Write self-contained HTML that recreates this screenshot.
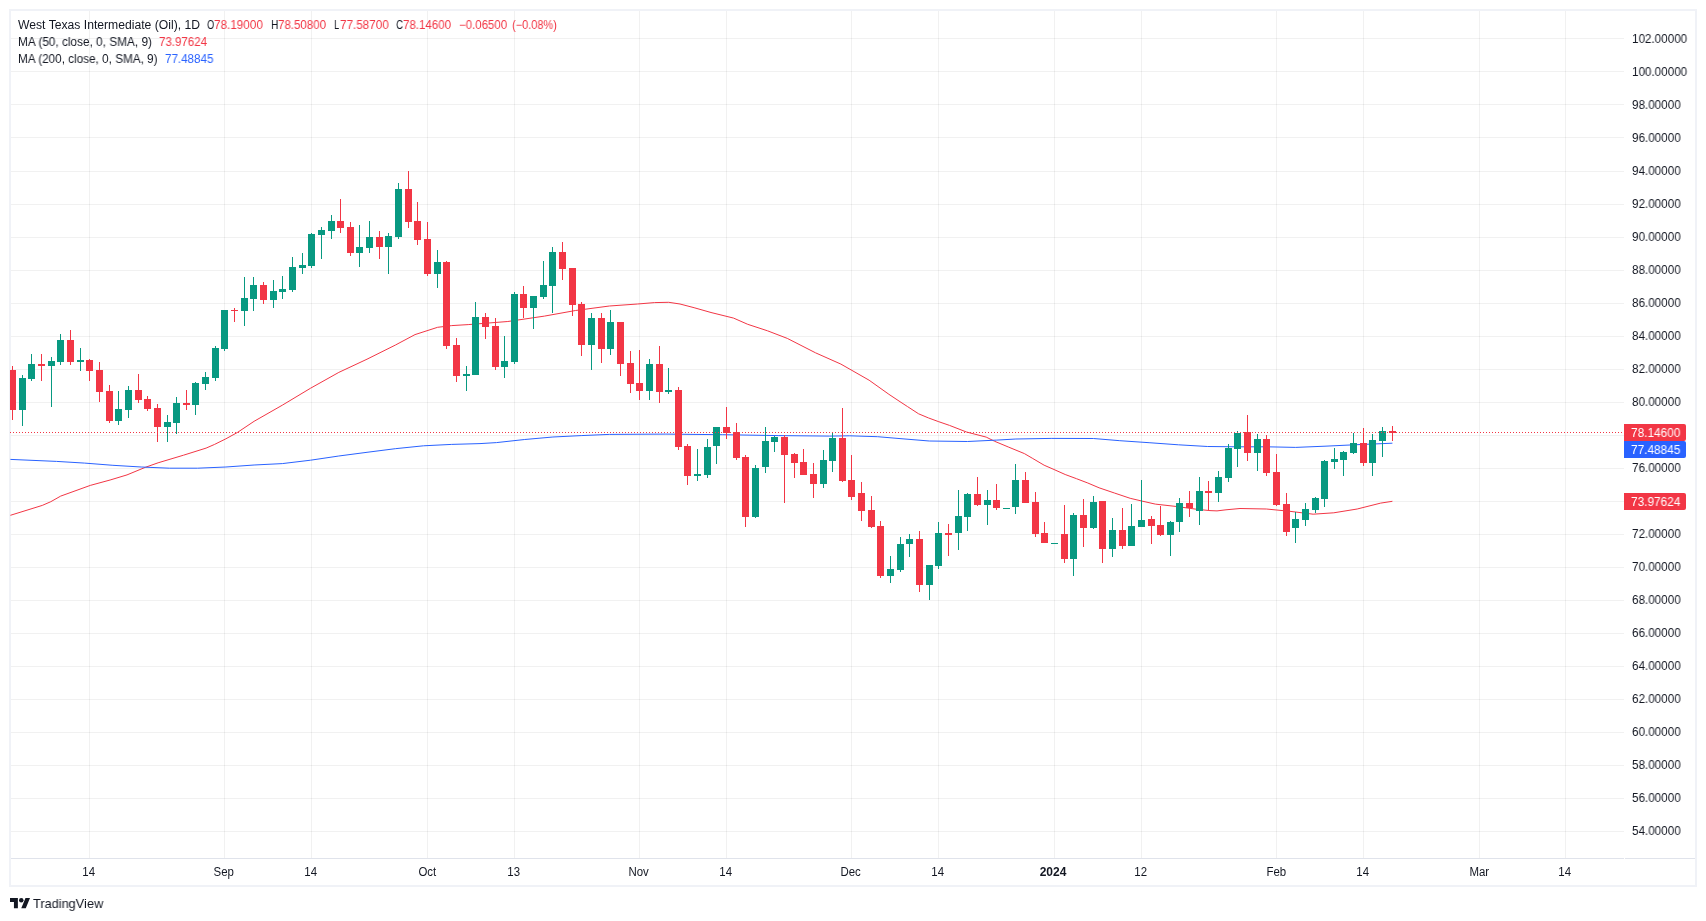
<!DOCTYPE html><html><head><meta charset="utf-8"><title>WTI</title><style>

html,body{margin:0;padding:0;background:#fff;}
body{width:1706px;height:921px;position:relative;overflow:hidden;font-family:"Liberation Sans",sans-serif;color:#131722;}
#frame{position:absolute;left:9px;top:9px;width:1684px;height:874px;border:2px solid #f0f2f7;}
svg{position:absolute;left:0;top:0;}
.t{position:absolute;white-space:nowrap;font-size:12px;line-height:14px;transform-origin:0 0;}
.pl{position:absolute;left:1631.9px;font-size:12px;line-height:14px;white-space:nowrap;transform-origin:0 50%;transform:scaleX(.972);}
.tl{position:absolute;top:865.2px;width:60px;text-align:center;font-size:12px;line-height:14px;white-space:nowrap;}
.tag{position:absolute;left:1624px;width:62px;height:17px;border-radius:0 2px 2px 0;color:#fff;font-size:12px;line-height:17px;}
.tag span{position:absolute;left:7.3px;top:1.2px;transform-origin:0 50%;transform:scaleX(.985);}
.pl,.tl,.t,.tag span{will-change:transform;}
.red{color:#f23645}.blue{color:#2962ff}

</style></head><body>
<div id="frame"></div>
<svg width="1706" height="921" viewBox="0 0 1706 921"><g shape-rendering="crispEdges"><rect x="89" y="11" width="1" height="847" fill="#283030" fill-opacity="0.065"/><rect x="224" y="11" width="1" height="847" fill="#283030" fill-opacity="0.065"/><rect x="311" y="11" width="1" height="847" fill="#283030" fill-opacity="0.065"/><rect x="427" y="11" width="1" height="847" fill="#283030" fill-opacity="0.065"/><rect x="514" y="11" width="1" height="847" fill="#283030" fill-opacity="0.065"/><rect x="639" y="11" width="1" height="847" fill="#283030" fill-opacity="0.065"/><rect x="726" y="11" width="1" height="847" fill="#283030" fill-opacity="0.065"/><rect x="851" y="11" width="1" height="847" fill="#283030" fill-opacity="0.065"/><rect x="938" y="11" width="1" height="847" fill="#283030" fill-opacity="0.065"/><rect x="1054" y="11" width="1" height="847" fill="#283030" fill-opacity="0.065"/><rect x="1141" y="11" width="1" height="847" fill="#283030" fill-opacity="0.065"/><rect x="1276" y="11" width="1" height="847" fill="#283030" fill-opacity="0.065"/><rect x="1363" y="11" width="1" height="847" fill="#283030" fill-opacity="0.065"/><rect x="1479" y="11" width="1" height="847" fill="#283030" fill-opacity="0.065"/><rect x="1565" y="11" width="1" height="847" fill="#283030" fill-opacity="0.065"/><rect x="11" y="831" width="1613" height="1" fill="#283030" fill-opacity="0.065"/><rect x="11" y="798" width="1613" height="1" fill="#283030" fill-opacity="0.065"/><rect x="11" y="765" width="1613" height="1" fill="#283030" fill-opacity="0.065"/><rect x="11" y="732" width="1613" height="1" fill="#283030" fill-opacity="0.065"/><rect x="11" y="699" width="1613" height="1" fill="#283030" fill-opacity="0.065"/><rect x="11" y="666" width="1613" height="1" fill="#283030" fill-opacity="0.065"/><rect x="11" y="633" width="1613" height="1" fill="#283030" fill-opacity="0.065"/><rect x="11" y="600" width="1613" height="1" fill="#283030" fill-opacity="0.065"/><rect x="11" y="567" width="1613" height="1" fill="#283030" fill-opacity="0.065"/><rect x="11" y="534" width="1613" height="1" fill="#283030" fill-opacity="0.065"/><rect x="11" y="501" width="1613" height="1" fill="#283030" fill-opacity="0.065"/><rect x="11" y="468" width="1613" height="1" fill="#283030" fill-opacity="0.065"/><rect x="11" y="435" width="1613" height="1" fill="#283030" fill-opacity="0.065"/><rect x="11" y="402" width="1613" height="1" fill="#283030" fill-opacity="0.065"/><rect x="11" y="369" width="1613" height="1" fill="#283030" fill-opacity="0.065"/><rect x="11" y="336" width="1613" height="1" fill="#283030" fill-opacity="0.065"/><rect x="11" y="303" width="1613" height="1" fill="#283030" fill-opacity="0.065"/><rect x="11" y="270" width="1613" height="1" fill="#283030" fill-opacity="0.065"/><rect x="11" y="237" width="1613" height="1" fill="#283030" fill-opacity="0.065"/><rect x="11" y="204" width="1613" height="1" fill="#283030" fill-opacity="0.065"/><rect x="11" y="171" width="1613" height="1" fill="#283030" fill-opacity="0.065"/><rect x="11" y="137" width="1613" height="1" fill="#283030" fill-opacity="0.065"/><rect x="11" y="104" width="1613" height="1" fill="#283030" fill-opacity="0.065"/><rect x="11" y="71" width="1613" height="1" fill="#283030" fill-opacity="0.065"/><rect x="11" y="38" width="1613" height="1" fill="#283030" fill-opacity="0.065"/><rect x="11" y="858" width="1613" height="1" fill="#e0e3eb"/><rect x="1625" y="858" width="70" height="1" fill="#e0e3eb"/></g><defs><clipPath id="cp"><rect x="10" y="11" width="1614" height="847"/></clipPath></defs><g clip-path="url(#cp)"><path d="M10.4,515.3 L42.3,505.4 L50.8,501.7 L60.7,496.1 L90.3,485.4 L110.1,480.0 L127.0,474.9 L145.4,467.3 L158.1,462.8 L183.5,455.2 L206.1,448.1 L214.6,444.4 L225.9,438.8 L237.2,432.6 L254.1,421.3 L282.3,405.2 L310.6,388.2 L338.8,372.4 L367.0,359.2 L395.3,345.1 L415.0,334.6 L437.6,327.3 L451.7,325.6 L468.2,324.6 L507.8,321.5 L544.5,316.1 L575.5,310.5 L609.4,306.0 L637.6,304.0 L654.6,302.6 L668.7,302.3 L680.0,304.0 L694.1,307.7 L711.0,312.5 L733.6,318.1 L747.7,324.3 L767.5,330.8 L787.3,338.4 L815.5,352.8 L840.9,364.1 L869.1,380.2 L888.9,394.3 L900.0,401.7 L907.4,406.5 L918.6,413.8 L928.4,417.9 L938.2,421.5 L949.5,425.4 L966.5,432.0 L986.2,437.1 L994.7,441.3 L1008.8,447.2 L1024.4,453.6 L1032.8,458.5 L1044.1,465.2 L1054.0,469.5 L1065.2,474.5 L1076.5,478.7 L1087.8,483.0 L1099.1,487.8 L1114.7,493.1 L1130.2,498.3 L1141.2,500.9 L1155.3,504.1 L1176.5,506.5 L1197.7,509.4 L1210.0,510.6 L1217.0,510.9 L1226.0,509.8 L1240.0,508.5 L1266.4,509.0 L1289.8,511.3 L1313.2,514.2 L1333.8,512.8 L1357.2,509.0 L1380.7,503.1 L1392.4,501.3" fill="none" stroke="#f23645" stroke-width="1" stroke-linejoin="round"/><path d="M10.4,459.4 L56.5,461.4 L84.7,463.1 L112.9,465.3 L141.2,467.0 L169.4,468.2 L197.6,468.2 L225.9,467.0 L254.1,465.0 L282.3,463.6 L310.6,460.2 L338.8,456.0 L367.0,452.3 L395.3,448.7 L423.5,445.8 L451.7,444.4 L480.0,443.6 L496.5,442.6 L524.7,439.5 L552.9,437.0 L581.2,435.6 L609.4,434.4 L665.9,434.1 L722.3,434.7 L778.8,435.6 L829.6,436.1 L849.4,435.8 L877.6,436.7 L900.0,438.6 L929.3,441.0 L967.4,441.5 L996.7,440.1 L1015.9,439.0 L1051.2,438.4 L1093.5,438.5 L1119.8,440.7 L1149.1,442.7 L1178.4,444.8 L1207.7,446.5 L1237.0,446.8 L1266.4,446.8 L1295.7,447.4 L1325.0,446.2 L1354.3,444.8 L1392.4,443.2" fill="none" stroke="#2962ff" stroke-width="1" stroke-linejoin="round"/><g shape-rendering="crispEdges"><rect x="12" y="366" width="1" height="54" fill="#f23645"/><rect x="9" y="370" width="7" height="40" fill="#f23645"/><rect x="22" y="375" width="1" height="51" fill="#089981"/><rect x="19" y="378" width="7" height="32" fill="#089981"/><rect x="31" y="354" width="1" height="27" fill="#089981"/><rect x="28" y="364" width="7" height="15" fill="#089981"/><rect x="41" y="354" width="1" height="27" fill="#f23645"/><rect x="38" y="364" width="7" height="2" fill="#f23645"/><rect x="51" y="357" width="1" height="50" fill="#089981"/><rect x="48" y="361" width="7" height="5" fill="#089981"/><rect x="60" y="334" width="1" height="31" fill="#089981"/><rect x="57" y="340" width="7" height="22" fill="#089981"/><rect x="70" y="330" width="1" height="35" fill="#f23645"/><rect x="67" y="340" width="7" height="22" fill="#f23645"/><rect x="80" y="348" width="1" height="23" fill="#089981"/><rect x="77" y="360" width="7" height="2" fill="#089981"/><rect x="89" y="359" width="1" height="22" fill="#f23645"/><rect x="86" y="360" width="7" height="11" fill="#f23645"/><rect x="99" y="362" width="1" height="40" fill="#f23645"/><rect x="96" y="370" width="7" height="22" fill="#f23645"/><rect x="109" y="385" width="1" height="38" fill="#f23645"/><rect x="106" y="391" width="7" height="30" fill="#f23645"/><rect x="118" y="391" width="1" height="34" fill="#089981"/><rect x="115" y="409" width="7" height="12" fill="#089981"/><rect x="128" y="386" width="1" height="32" fill="#089981"/><rect x="125" y="390" width="7" height="20" fill="#089981"/><rect x="138" y="374" width="1" height="29" fill="#f23645"/><rect x="135" y="390" width="7" height="10" fill="#f23645"/><rect x="147" y="396" width="1" height="15" fill="#f23645"/><rect x="144" y="399" width="7" height="10" fill="#f23645"/><rect x="157" y="404" width="1" height="38" fill="#f23645"/><rect x="154" y="408" width="7" height="19" fill="#f23645"/><rect x="167" y="415" width="1" height="27" fill="#089981"/><rect x="164" y="422" width="7" height="5" fill="#089981"/><rect x="176" y="397" width="1" height="37" fill="#089981"/><rect x="173" y="403" width="7" height="20" fill="#089981"/><rect x="186" y="390" width="1" height="20" fill="#f23645"/><rect x="183" y="403" width="7" height="2" fill="#f23645"/><rect x="195" y="382" width="1" height="33" fill="#089981"/><rect x="192" y="383" width="7" height="22" fill="#089981"/><rect x="205" y="372" width="1" height="18" fill="#089981"/><rect x="202" y="377" width="7" height="7" fill="#089981"/><rect x="215" y="346" width="1" height="35" fill="#089981"/><rect x="212" y="348" width="7" height="30" fill="#089981"/><rect x="224" y="310" width="1" height="41" fill="#089981"/><rect x="221" y="310" width="7" height="39" fill="#089981"/><rect x="234" y="308" width="1" height="14" fill="#f23645"/><rect x="231" y="310" width="7" height="1" fill="#f23645"/><rect x="244" y="277" width="1" height="49" fill="#089981"/><rect x="241" y="298" width="7" height="13" fill="#089981"/><rect x="253" y="277" width="1" height="34" fill="#089981"/><rect x="250" y="285" width="7" height="14" fill="#089981"/><rect x="263" y="282" width="1" height="22" fill="#f23645"/><rect x="260" y="285" width="7" height="15" fill="#f23645"/><rect x="273" y="280" width="1" height="28" fill="#089981"/><rect x="270" y="291" width="7" height="9" fill="#089981"/><rect x="282" y="276" width="1" height="23" fill="#089981"/><rect x="279" y="289" width="7" height="3" fill="#089981"/><rect x="292" y="257" width="1" height="35" fill="#089981"/><rect x="289" y="267" width="7" height="23" fill="#089981"/><rect x="302" y="253" width="1" height="21" fill="#089981"/><rect x="299" y="265" width="7" height="3" fill="#089981"/><rect x="311" y="233" width="1" height="35" fill="#089981"/><rect x="308" y="234" width="7" height="32" fill="#089981"/><rect x="321" y="227" width="1" height="32" fill="#089981"/><rect x="318" y="230" width="7" height="5" fill="#089981"/><rect x="331" y="215" width="1" height="24" fill="#089981"/><rect x="328" y="221" width="7" height="10" fill="#089981"/><rect x="340" y="199" width="1" height="34" fill="#f23645"/><rect x="337" y="221" width="7" height="7" fill="#f23645"/><rect x="350" y="222" width="1" height="34" fill="#f23645"/><rect x="347" y="227" width="7" height="26" fill="#f23645"/><rect x="359" y="225" width="1" height="42" fill="#089981"/><rect x="356" y="247" width="7" height="6" fill="#089981"/><rect x="369" y="221" width="1" height="32" fill="#089981"/><rect x="366" y="237" width="7" height="11" fill="#089981"/><rect x="379" y="231" width="1" height="28" fill="#f23645"/><rect x="376" y="237" width="7" height="10" fill="#f23645"/><rect x="388" y="233" width="1" height="41" fill="#089981"/><rect x="385" y="236" width="7" height="11" fill="#089981"/><rect x="398" y="183" width="1" height="56" fill="#089981"/><rect x="395" y="189" width="7" height="48" fill="#089981"/><rect x="408" y="171" width="1" height="57" fill="#f23645"/><rect x="405" y="189" width="7" height="33" fill="#f23645"/><rect x="417" y="202" width="1" height="43" fill="#f23645"/><rect x="414" y="221" width="7" height="19" fill="#f23645"/><rect x="427" y="222" width="1" height="54" fill="#f23645"/><rect x="424" y="239" width="7" height="35" fill="#f23645"/><rect x="437" y="250" width="1" height="38" fill="#089981"/><rect x="434" y="262" width="7" height="12" fill="#089981"/><rect x="446" y="261" width="1" height="88" fill="#f23645"/><rect x="443" y="262" width="7" height="84" fill="#f23645"/><rect x="456" y="338" width="1" height="44" fill="#f23645"/><rect x="453" y="345" width="7" height="31" fill="#f23645"/><rect x="466" y="366" width="1" height="25" fill="#089981"/><rect x="463" y="374" width="7" height="2" fill="#089981"/><rect x="475" y="302" width="1" height="73" fill="#089981"/><rect x="472" y="317" width="7" height="58" fill="#089981"/><rect x="485" y="313" width="1" height="26" fill="#f23645"/><rect x="482" y="317" width="7" height="10" fill="#f23645"/><rect x="495" y="318" width="1" height="52" fill="#f23645"/><rect x="492" y="326" width="7" height="41" fill="#f23645"/><rect x="504" y="336" width="1" height="42" fill="#089981"/><rect x="501" y="361" width="7" height="6" fill="#089981"/><rect x="514" y="292" width="1" height="72" fill="#089981"/><rect x="511" y="294" width="7" height="68" fill="#089981"/><rect x="523" y="286" width="1" height="32" fill="#f23645"/><rect x="520" y="294" width="7" height="14" fill="#f23645"/><rect x="533" y="296" width="1" height="33" fill="#089981"/><rect x="530" y="296" width="7" height="12" fill="#089981"/><rect x="543" y="261" width="1" height="38" fill="#089981"/><rect x="540" y="285" width="7" height="12" fill="#089981"/><rect x="552" y="247" width="1" height="66" fill="#089981"/><rect x="549" y="252" width="7" height="34" fill="#089981"/><rect x="562" y="242" width="1" height="38" fill="#f23645"/><rect x="559" y="252" width="7" height="17" fill="#f23645"/><rect x="572" y="268" width="1" height="48" fill="#f23645"/><rect x="569" y="268" width="7" height="37" fill="#f23645"/><rect x="581" y="302" width="1" height="54" fill="#f23645"/><rect x="578" y="304" width="7" height="41" fill="#f23645"/><rect x="591" y="313" width="1" height="57" fill="#089981"/><rect x="588" y="318" width="7" height="27" fill="#089981"/><rect x="601" y="313" width="1" height="50" fill="#f23645"/><rect x="598" y="318" width="7" height="31" fill="#f23645"/><rect x="610" y="310" width="1" height="45" fill="#089981"/><rect x="607" y="322" width="7" height="27" fill="#089981"/><rect x="620" y="322" width="1" height="54" fill="#f23645"/><rect x="617" y="322" width="7" height="42" fill="#f23645"/><rect x="630" y="351" width="1" height="42" fill="#f23645"/><rect x="627" y="363" width="7" height="21" fill="#f23645"/><rect x="639" y="350" width="1" height="50" fill="#f23645"/><rect x="636" y="383" width="7" height="8" fill="#f23645"/><rect x="649" y="359" width="1" height="41" fill="#089981"/><rect x="646" y="364" width="7" height="27" fill="#089981"/><rect x="659" y="346" width="1" height="57" fill="#f23645"/><rect x="656" y="364" width="7" height="28" fill="#f23645"/><rect x="668" y="368" width="1" height="26" fill="#089981"/><rect x="665" y="390" width="7" height="2" fill="#089981"/><rect x="678" y="387" width="1" height="63" fill="#f23645"/><rect x="675" y="390" width="7" height="57" fill="#f23645"/><rect x="687" y="444" width="1" height="41" fill="#f23645"/><rect x="684" y="446" width="7" height="30" fill="#f23645"/><rect x="697" y="449" width="1" height="32" fill="#089981"/><rect x="694" y="474" width="7" height="2" fill="#089981"/><rect x="707" y="439" width="1" height="39" fill="#089981"/><rect x="704" y="447" width="7" height="28" fill="#089981"/><rect x="716" y="427" width="1" height="37" fill="#089981"/><rect x="713" y="427" width="7" height="19" fill="#089981"/><rect x="726" y="407" width="1" height="32" fill="#f23645"/><rect x="723" y="427" width="7" height="6" fill="#f23645"/><rect x="736" y="423" width="1" height="37" fill="#f23645"/><rect x="733" y="432" width="7" height="26" fill="#f23645"/><rect x="745" y="455" width="1" height="72" fill="#f23645"/><rect x="742" y="457" width="7" height="60" fill="#f23645"/><rect x="755" y="465" width="1" height="53" fill="#089981"/><rect x="752" y="468" width="7" height="49" fill="#089981"/><rect x="765" y="427" width="1" height="46" fill="#089981"/><rect x="762" y="441" width="7" height="26" fill="#089981"/><rect x="774" y="436" width="1" height="16" fill="#089981"/><rect x="771" y="437" width="7" height="5" fill="#089981"/><rect x="784" y="435" width="1" height="68" fill="#f23645"/><rect x="781" y="437" width="7" height="18" fill="#f23645"/><rect x="794" y="453" width="1" height="25" fill="#f23645"/><rect x="791" y="454" width="7" height="9" fill="#f23645"/><rect x="803" y="449" width="1" height="26" fill="#f23645"/><rect x="800" y="462" width="7" height="13" fill="#f23645"/><rect x="813" y="463" width="1" height="35" fill="#f23645"/><rect x="810" y="474" width="7" height="10" fill="#f23645"/><rect x="823" y="450" width="1" height="38" fill="#089981"/><rect x="820" y="460" width="7" height="24" fill="#089981"/><rect x="832" y="432" width="1" height="40" fill="#089981"/><rect x="829" y="438" width="7" height="23" fill="#089981"/><rect x="842" y="408" width="1" height="74" fill="#f23645"/><rect x="839" y="438" width="7" height="43" fill="#f23645"/><rect x="851" y="455" width="1" height="45" fill="#f23645"/><rect x="848" y="480" width="7" height="17" fill="#f23645"/><rect x="861" y="482" width="1" height="39" fill="#f23645"/><rect x="858" y="493" width="7" height="18" fill="#f23645"/><rect x="871" y="496" width="1" height="32" fill="#f23645"/><rect x="868" y="510" width="7" height="17" fill="#f23645"/><rect x="880" y="521" width="1" height="57" fill="#f23645"/><rect x="877" y="526" width="7" height="50" fill="#f23645"/><rect x="890" y="556" width="1" height="27" fill="#089981"/><rect x="887" y="569" width="7" height="7" fill="#089981"/><rect x="900" y="537" width="1" height="35" fill="#089981"/><rect x="897" y="544" width="7" height="26" fill="#089981"/><rect x="909" y="534" width="1" height="23" fill="#089981"/><rect x="906" y="539" width="7" height="5" fill="#089981"/><rect x="919" y="531" width="1" height="61" fill="#f23645"/><rect x="916" y="539" width="7" height="46" fill="#f23645"/><rect x="929" y="565" width="1" height="35" fill="#089981"/><rect x="926" y="565" width="7" height="20" fill="#089981"/><rect x="938" y="522" width="1" height="47" fill="#089981"/><rect x="935" y="533" width="7" height="33" fill="#089981"/><rect x="948" y="524" width="1" height="32" fill="#f23645"/><rect x="945" y="533" width="7" height="2" fill="#f23645"/><rect x="958" y="490" width="1" height="60" fill="#089981"/><rect x="955" y="516" width="7" height="17" fill="#089981"/><rect x="967" y="493" width="1" height="38" fill="#089981"/><rect x="964" y="494" width="7" height="23" fill="#089981"/><rect x="977" y="477" width="1" height="29" fill="#f23645"/><rect x="974" y="494" width="7" height="11" fill="#f23645"/><rect x="987" y="490" width="1" height="35" fill="#089981"/><rect x="984" y="500" width="7" height="5" fill="#089981"/><rect x="996" y="484" width="1" height="26" fill="#f23645"/><rect x="993" y="500" width="7" height="8" fill="#f23645"/><rect x="1006" y="508" width="1" height="1" fill="#089981"/><rect x="1003" y="508" width="7" height="1" fill="#089981"/><rect x="1015" y="464" width="1" height="50" fill="#089981"/><rect x="1012" y="480" width="7" height="27" fill="#089981"/><rect x="1025" y="472" width="1" height="31" fill="#f23645"/><rect x="1022" y="480" width="7" height="23" fill="#f23645"/><rect x="1035" y="492" width="1" height="45" fill="#f23645"/><rect x="1032" y="502" width="7" height="32" fill="#f23645"/><rect x="1044" y="522" width="1" height="21" fill="#f23645"/><rect x="1041" y="533" width="7" height="10" fill="#f23645"/><rect x="1054" y="543" width="1" height="1" fill="#089981"/><rect x="1051" y="543" width="7" height="1" fill="#089981"/><rect x="1064" y="505" width="1" height="58" fill="#f23645"/><rect x="1061" y="534" width="7" height="25" fill="#f23645"/><rect x="1073" y="513" width="1" height="63" fill="#089981"/><rect x="1070" y="515" width="7" height="44" fill="#089981"/><rect x="1083" y="499" width="1" height="48" fill="#f23645"/><rect x="1080" y="515" width="7" height="13" fill="#f23645"/><rect x="1093" y="496" width="1" height="33" fill="#089981"/><rect x="1090" y="502" width="7" height="26" fill="#089981"/><rect x="1102" y="501" width="1" height="62" fill="#f23645"/><rect x="1099" y="501" width="7" height="48" fill="#f23645"/><rect x="1112" y="518" width="1" height="39" fill="#089981"/><rect x="1109" y="530" width="7" height="19" fill="#089981"/><rect x="1122" y="508" width="1" height="41" fill="#f23645"/><rect x="1119" y="530" width="7" height="16" fill="#f23645"/><rect x="1131" y="504" width="1" height="42" fill="#089981"/><rect x="1128" y="526" width="7" height="20" fill="#089981"/><rect x="1141" y="480" width="1" height="47" fill="#089981"/><rect x="1138" y="520" width="7" height="7" fill="#089981"/><rect x="1151" y="516" width="1" height="28" fill="#f23645"/><rect x="1148" y="519" width="7" height="7" fill="#f23645"/><rect x="1160" y="506" width="1" height="30" fill="#f23645"/><rect x="1157" y="525" width="7" height="10" fill="#f23645"/><rect x="1170" y="521" width="1" height="35" fill="#089981"/><rect x="1167" y="522" width="7" height="13" fill="#089981"/><rect x="1179" y="498" width="1" height="34" fill="#089981"/><rect x="1176" y="503" width="7" height="19" fill="#089981"/><rect x="1189" y="491" width="1" height="26" fill="#f23645"/><rect x="1186" y="503" width="7" height="5" fill="#f23645"/><rect x="1199" y="477" width="1" height="48" fill="#089981"/><rect x="1196" y="491" width="7" height="20" fill="#089981"/><rect x="1208" y="481" width="1" height="29" fill="#f23645"/><rect x="1205" y="491" width="7" height="2" fill="#f23645"/><rect x="1218" y="471" width="1" height="31" fill="#089981"/><rect x="1215" y="477" width="7" height="16" fill="#089981"/><rect x="1228" y="444" width="1" height="38" fill="#089981"/><rect x="1225" y="448" width="7" height="30" fill="#089981"/><rect x="1237" y="431" width="1" height="36" fill="#089981"/><rect x="1234" y="433" width="7" height="16" fill="#089981"/><rect x="1247" y="415" width="1" height="46" fill="#f23645"/><rect x="1244" y="432" width="7" height="21" fill="#f23645"/><rect x="1257" y="434" width="1" height="37" fill="#089981"/><rect x="1254" y="439" width="7" height="14" fill="#089981"/><rect x="1266" y="435" width="1" height="41" fill="#f23645"/><rect x="1263" y="439" width="7" height="34" fill="#f23645"/><rect x="1276" y="454" width="1" height="52" fill="#f23645"/><rect x="1273" y="472" width="7" height="33" fill="#f23645"/><rect x="1286" y="493" width="1" height="43" fill="#f23645"/><rect x="1283" y="504" width="7" height="28" fill="#f23645"/><rect x="1295" y="512" width="1" height="31" fill="#089981"/><rect x="1292" y="519" width="7" height="9" fill="#089981"/><rect x="1305" y="503" width="1" height="23" fill="#089981"/><rect x="1302" y="509" width="7" height="11" fill="#089981"/><rect x="1315" y="497" width="1" height="16" fill="#089981"/><rect x="1312" y="498" width="7" height="12" fill="#089981"/><rect x="1324" y="460" width="1" height="47" fill="#089981"/><rect x="1321" y="461" width="7" height="38" fill="#089981"/><rect x="1334" y="448" width="1" height="21" fill="#089981"/><rect x="1331" y="459" width="7" height="3" fill="#089981"/><rect x="1343" y="451" width="1" height="25" fill="#089981"/><rect x="1340" y="452" width="7" height="8" fill="#089981"/><rect x="1353" y="433" width="1" height="21" fill="#089981"/><rect x="1350" y="443" width="7" height="10" fill="#089981"/><rect x="1363" y="428" width="1" height="38" fill="#f23645"/><rect x="1360" y="443" width="7" height="20" fill="#f23645"/><rect x="1372" y="434" width="1" height="42" fill="#089981"/><rect x="1369" y="440" width="7" height="23" fill="#089981"/><rect x="1382" y="427" width="1" height="30" fill="#089981"/><rect x="1379" y="431" width="7" height="10" fill="#089981"/><rect x="1392" y="426" width="1" height="15" fill="#f23645"/><rect x="1389" y="431" width="7" height="2" fill="#f23645"/></g><line x1="10" y1="432.5" x2="1624" y2="432.5" stroke="#f23645" stroke-width="1" stroke-dasharray="1 2" shape-rendering="crispEdges"/></g><g transform="translate(10,898) scale(0.5634)" fill="#131722"><path d="M14 18H7V7H0V0h14v18zM28 18h-8l7.5-18h8L28 18z"/><circle cx="20" cy="4" r="4"/></g></svg>
<div class="pl" style="top:823.9px">54.00000</div>
<div class="pl" style="top:790.9px">56.00000</div>
<div class="pl" style="top:757.9px">58.00000</div>
<div class="pl" style="top:724.9px">60.00000</div>
<div class="pl" style="top:691.9px">62.00000</div>
<div class="pl" style="top:658.9px">64.00000</div>
<div class="pl" style="top:625.9px">66.00000</div>
<div class="pl" style="top:592.9px">68.00000</div>
<div class="pl" style="top:559.9px">70.00000</div>
<div class="pl" style="top:526.9px">72.00000</div>
<div class="pl" style="top:460.9px">76.00000</div>
<div class="pl" style="top:394.9px">80.00000</div>
<div class="pl" style="top:361.9px">82.00000</div>
<div class="pl" style="top:328.9px">84.00000</div>
<div class="pl" style="top:295.9px">86.00000</div>
<div class="pl" style="top:262.9px">88.00000</div>
<div class="pl" style="top:229.9px">90.00000</div>
<div class="pl" style="top:196.9px">92.00000</div>
<div class="pl" style="top:163.9px">94.00000</div>
<div class="pl" style="top:130.9px">96.00000</div>
<div class="pl" style="top:97.9px">98.00000</div>
<div class="pl" style="top:64.9px">100.00000</div>
<div class="pl" style="top:31.9px">102.00000</div>
<div class="tag" style="top:424px;background:#f23645"><span>78.14600</span></div>
<div class="tag" style="top:441px;background:#2962ff"><span>77.48845</span></div>
<div class="tag" style="top:493px;background:#f23645"><span>73.97624</span></div>
<div class="tl" style="left:59.0px"><span style="display:inline-block;transform:scaleX(0.953)">14</span></div>
<div class="tl" style="left:194.0px"><span style="display:inline-block;transform:scaleX(0.953)">Sep</span></div>
<div class="tl" style="left:281.0px"><span style="display:inline-block;transform:scaleX(0.953)">14</span></div>
<div class="tl" style="left:397.0px"><span style="display:inline-block;transform:scaleX(0.953)">Oct</span></div>
<div class="tl" style="left:484.0px"><span style="display:inline-block;transform:scaleX(0.953)">13</span></div>
<div class="tl" style="left:609.0px"><span style="display:inline-block;transform:scaleX(0.953)">Nov</span></div>
<div class="tl" style="left:696.0px"><span style="display:inline-block;transform:scaleX(0.953)">14</span></div>
<div class="tl" style="left:821.0px"><span style="display:inline-block;transform:scaleX(0.953)">Dec</span></div>
<div class="tl" style="left:908.0px"><span style="display:inline-block;transform:scaleX(0.953)">14</span></div>
<div class="tl" style="left:1023.3px"><span style="display:inline-block;transform:scaleX(1.0)"><b>2024</b></span></div>
<div class="tl" style="left:1111.0px"><span style="display:inline-block;transform:scaleX(0.953)">12</span></div>
<div class="tl" style="left:1246.0px"><span style="display:inline-block;transform:scaleX(0.953)">Feb</span></div>
<div class="tl" style="left:1333.0px"><span style="display:inline-block;transform:scaleX(0.953)">14</span></div>
<div class="tl" style="left:1449.0px"><span style="display:inline-block;transform:scaleX(0.953)">Mar</span></div>
<div class="tl" style="left:1535.0px"><span style="display:inline-block;transform:scaleX(0.953)">14</span></div>
<div class="t " id="s0" style="transform:scaleX(1.0132);left:18.0px;top:17.6px">West Texas Intermediate (Oil), 1D</div>
<div class="t " id="s1" style="transform:scaleX(0.7813);left:207.0px;top:17.6px">O</div>
<div class="t red" id="s2" style="transform:scaleX(0.9748);left:213.8px;top:17.6px">78.19000</div>
<div class="t " id="s3" style="transform:scaleX(0.8418);left:270.6px;top:17.6px">H</div>
<div class="t red" id="s4" style="transform:scaleX(0.9588);left:278.3px;top:17.6px">78.50800</div>
<div class="t " id="s5" style="transform:scaleX(0.7776);left:333.8px;top:17.6px">L</div>
<div class="t red" id="s6" style="transform:scaleX(0.9728);left:339.5px;top:17.6px">77.58700</div>
<div class="t " id="s7" style="transform:scaleX(0.8072);left:395.9px;top:17.6px">C</div>
<div class="t red" id="s8" style="transform:scaleX(0.9588);left:403.2px;top:17.6px">78.14600</div>
<div class="t red" id="s9" style="transform:scaleX(0.9545);left:458.5px;top:17.6px">−0.06500</div>
<div class="t red" id="s10" style="transform:scaleX(0.9157);left:511.5px;top:17.6px">(−0.08%)</div>
<div class="t " id="s11" style="transform:scaleX(0.9841);left:18.0px;top:34.6px">MA (50, close, 0, SMA, 9)</div>
<div class="t red" id="s12" style="transform:scaleX(0.9588);left:159.4px;top:34.6px">73.97624</div>
<div class="t " id="s13" style="transform:scaleX(0.9773);left:18.0px;top:51.6px">MA (200, close, 0, SMA, 9)</div>
<div class="t blue" id="s14" style="transform:scaleX(0.9668);left:165.4px;top:51.6px">77.48845</div>
<div class="t" id="tv" style="transform:scaleX(0.9812);left:33.2px;top:895.5px;font-size:13px;line-height:15px;">TradingView</div>
</body></html>
